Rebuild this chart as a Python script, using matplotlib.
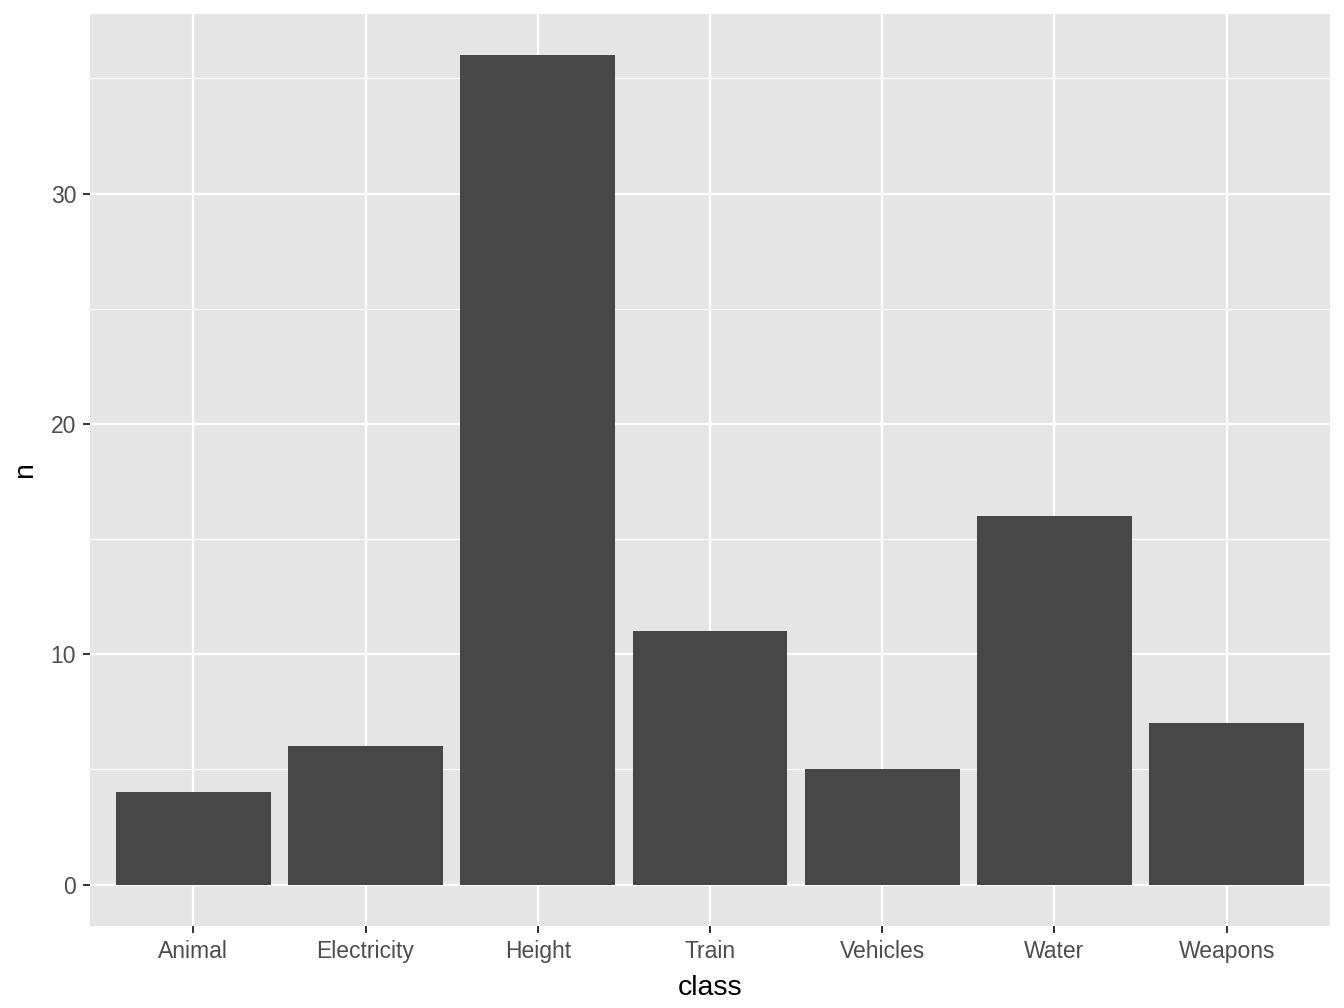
import matplotlib
matplotlib.use("Agg")
import matplotlib.pyplot as plt
import numpy as np

categories = ["Animal", "Electricity", "Height", "Train", "Vehicles", "Water", "Weapons"]
counts = [4, 6, 36, 11, 5, 16, 7]
y_ticks = [0, 10, 20, 30]
y_minor = [5, 15, 25, 35]

plt.rcParams['font.family'] = ['Liberation Sans', 'DejaVu Sans']

fig = plt.figure(figsize=(13.44, 10.08), dpi=100)
ax = fig.add_axes([90/1344, 1-926/1008, (1330-90)/1344, (926-14)/1008])
ax.set_facecolor('#E5E5E5')

x = np.arange(1, len(categories)+1)
ax.bar(x, counts, width=0.9, color='#474747', zorder=3)

ax.set_xlim(0.4, len(categories)+0.6)
ax.set_ylim(-1.8, 37.8)
ax.set_xticks(x)
ax.set_xticklabels(categories)
ax.set_yticks(y_ticks)
ax.set_yticks(y_minor, minor=True)

ax.grid(which='major', color='white', linewidth=1.6, zorder=0)
ax.grid(which='minor', axis='y', color='white', linewidth=0.8, zorder=0)
ax.set_axisbelow(True)

for s in ax.spines.values():
    s.set_visible(False)

ax.tick_params(which='major', length=5, width=1.4, color='#333333', labelcolor='#4D4D4D', labelsize=16.5)
ax.tick_params(axis='x', which='major', pad=5)
ax.tick_params(axis='y', which='major', pad=5)
ax.tick_params(which='minor', length=0)

ax.set_xlabel('class', fontsize=20.5, color='black', labelpad=9)
ax.set_ylabel('n', fontsize=20.5, color='black', labelpad=9)

fig.savefig('out.png', dpi=100, facecolor='white')
